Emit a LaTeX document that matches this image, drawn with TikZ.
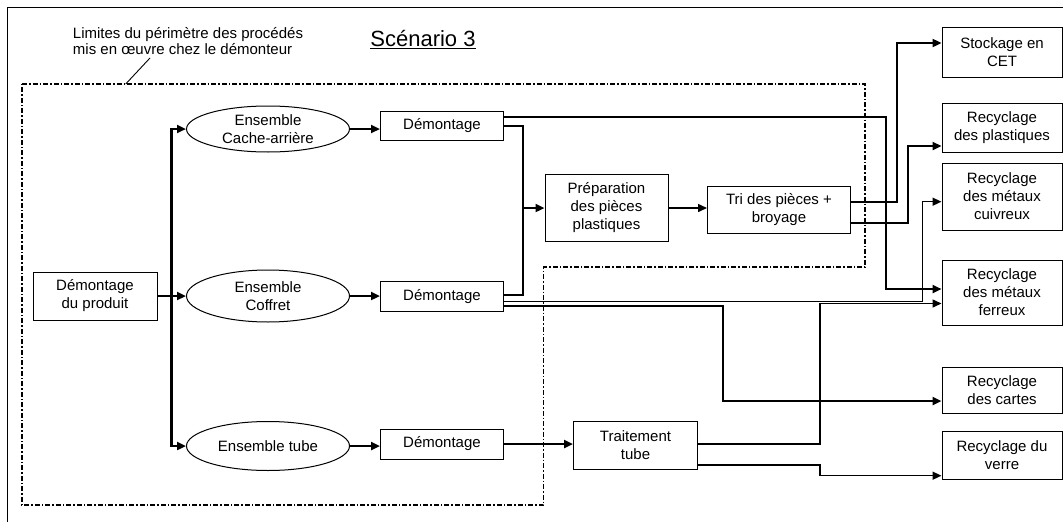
\documentclass[tikz,border=0pt]{standalone}
\usepackage{fontspec}
\setmainfont{Liberation Sans}
\usetikzlibrary{arrows.meta,shapes.geometric}

\tikzset{
  box/.style={draw,line width=1pt,align=center,inner sep=1pt,minimum width=123pt,minimum height=30pt},
  outbox/.style={box,minimum width=120pt},
  ens/.style={draw,ellipse,line width=1pt,align=center,inner sep=0pt,minimum width=163pt},
  link/.style={line width=2.3pt},
  flow/.style={link,-{Triangle[length=9pt,width=8pt]}},
  thinflow/.style={line width=1.5pt,-{Triangle[length=9pt,width=8pt]}},
  limit/.style={line width=1.4pt,dash pattern=on 5pt off 2pt on 1.5pt off 2pt}
}

\begin{document}
\begin{tikzpicture}[x=1pt,y=-1pt,font=\fontsize{15}{18}\selectfont]
  \useasboundingbox (0,0) rectangle (1063,522);
  \draw[line width=0.9pt] (7,522) -- (7,7) -- (1063,7);

  \node[align=left,font=\fontsize{15}{16}\selectfont] (limtxt) at (188,41) {Limites du p\'erim\`etre des proc\'ed\'es\\mis en \oe uvre chez le d\'emonteur};
  \node[font=\fontsize{22}{24}\selectfont] (title) at (423,40) {\underline{Sc\'enario 3}};
  \coordinate (limA) at (150,58);
  \coordinate (limB) at (125.7,84);
  \draw[line width=0.9pt] (limA) -- (limB);
  \draw[limit] (22,84) -- (865,84) -- (865,267) -- (543.5,267) -- (543.5,505) -- (22,505) -- cycle;

  \node[box,minimum width=124pt,minimum height=48pt] (prod) at (95,296) {D\'emontage\\du produit};
  \node[ens,minimum height=46pt] (eCache) at (268,129) {Ensemble\\Cache-arri\`ere};
  \node[ens,minimum height=52pt] (eCof) at (268,296) {Ensemble\\Coffret};
  \node[ens,minimum height=49pt] (eTube) at (268,446) {Ensemble tube};
  \node[box,minimum height=29pt] (dmA) at (442,126) {D\'emontage};
  \node[box] (dmB) at (442,296.7) {D\'emontage};
  \node[box] (dmC) at (442,444) {D\'emontage};
  \node[box,minimum height=67pt] (prep) at (606.5,208) {Pr\'eparation\\des pi\`eces\\plastiques};
  \node[box,minimum width=143pt,minimum height=47pt] (tri) at (779,209.7) {Tri des pi\`eces +\\broyage};
  \node[box,minimum width=124pt,minimum height=48pt] (trait) at (635.5,445) {Traitement\\tube};

  \node[outbox,minimum height=50pt] (stock) at (1002,52) {Stockage en\\CET};
  \node[outbox,minimum height=49pt] (plast) at (1002,127.5) {Recyclage\\des plastiques};
  \node[outbox,minimum height=67pt] (cuiv) at (1002,196.5) {Recyclage\\des m\'etaux\\cuivreux};
  \node[outbox,minimum height=65pt] (fer) at (1002,292.5) {Recyclage\\des m\'etaux\\ferreux};
  \node[outbox,minimum height=46pt] (cart) at (1002,390) {Recyclage\\des cartes};
  \node[outbox,minimum height=48pt] (verre) at (1002,455) {Recyclage du\\verre};

  \draw[flow] (prod.east) -- ++(14,0) |- (eCache.west);
  \draw[flow] (prod.east) -- (eCof.west);
  \draw[flow] (prod.east) -- ++(14,0) |- (eTube.west);
  \draw[flow] (eCache.east) -- (dmA.west |- eCache.east);
  \draw[flow] (eCof.east) -- (dmB.west |- eCof.east);
  \draw[flow] (eTube.east) -- (dmC.west |- eTube.east);

  \draw[flow] (dmA.east |- 0,117) -| (886,289) -- (fer.west |- 0,289);
  \draw[link] (dmA.east) -| (523,295) -- (dmB.east |- 0,295);
  \draw[flow] (prep.west -| 523,0) -- (prep.west);
  \draw[thinflow] (prep.east) -- (tri.west |- prep.east);
  \draw[flow] (tri.east |- 0,201.7) -| (896.7,43) -- (stock.west |- 0,43);
  \draw[flow] (tri.east |- 0,223) -| (908,146) -- (plast.west |- 0,146);
  \draw[thinflow] (dmB.east |- 0,301.7) -| (922.7,201.7) -- (cuiv.west |- 0,201.7);
  \draw[flow] (dmB.east |- 0,306) -| (722.7,401) -- (cart.west |- 0,401);
  \draw[flow] (dmC.east) -- (trait.west |- dmC.east);
  \draw[thinflow] (trait.east |- 0,444) -| (820,303.5) -- (fer.west |- 0,303.5);
  \draw[thinflow] (trait.east |- 0,465) -| (820,475.7) -- (verre.west |- 0,475.7);
\end{tikzpicture}
\end{document}
